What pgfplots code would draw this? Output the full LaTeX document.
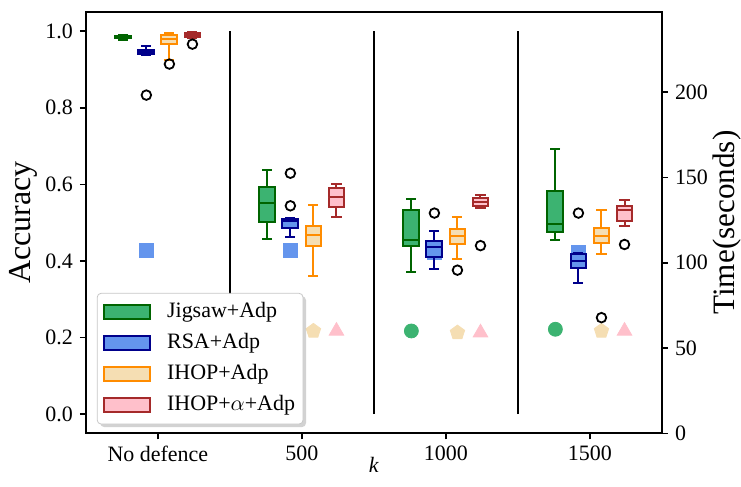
\documentclass[border=0pt]{standalone}
\usepackage{pgfplots}
\pgfplotsset{compat=1.18}
\usepgfplotslibrary{statistics}
\usetikzlibrary{shadows,plotmarks}
\usepackage{fontspec}
\setmainfont{Liberation Serif}

\definecolor{jigF}{HTML}{3CB371}
\definecolor{jigE}{HTML}{006400}
\definecolor{rsaF}{HTML}{6495ED}
\definecolor{rsaE}{HTML}{00008B}
\definecolor{ihF}{HTML}{F5DEB3}
\definecolor{ihE}{HTML}{FF8C00}
\definecolor{iaF}{HTML}{FFC0CB}
\definecolor{iaE}{HTML}{A52A2A}

\makeatletter
\tikzset{noshadow/.code={\let\tikz@preactions\pgfutil@empty\let\tikz@postactions\pgfutil@empty}}
\makeatother

\pgfplotsset{
  bxc/.style={forget plot, line width=1pt, solid, mark=o, mark size=2.4pt,
    mark options={draw=black, fill=none, line width=0.9pt, solid}},
  jig/.style={bxc, draw=jigE, fill=jigF},
  rsa/.style={bxc, draw=rsaE, fill=rsaF},
  ih/.style={bxc, draw=ihE, fill=ihF},
  ia/.style={bxc, draw=iaE, fill=iaF},
  bp/.style n args={6}{boxplot/draw direction=y, boxplot prepared={draw position=#1, lower whisker=#2,
    lower quartile=#3, median=#4, upper quartile=#5, upper whisker=#6,
    box extend=0.11, whisker extend=0.07}},
}

\begin{document}
\begin{tikzpicture}
% time axis (drawn first, so the boxes lie over its markers)
\begin{axis}[scale only axis, width=288.5pt, height=211pt,
  xmin=-0.5, xmax=3.5, ymin=0, ymax=247,
  axis x line=none, axis y line*=right,
  ytick={0,50,100,150,200},
  tick align=outside, major tick length=3pt,
  axis line style={line width=1pt},
  every tick/.style={black, line width=0.8pt},
  /pgf/number format/assume math mode=true,
  tick label style={font=\fontsize{11}{13}\selectfont},
  ylabel={Time(seconds)},
  every axis y label/.style={at={(rel axis cs:1.1127,0.5)}, rotate=90, anchor=center, inner sep=0pt, font=\fontsize{15.6}{18}\selectfont},
]
\addplot[only marks, mark=*, mark size=3.5pt, draw=jigF, fill=jigF]
  coordinates {(-0.24,60) (0.76,60) (1.76,60) (2.76,61)};
\addplot[only marks, mark=square*, mark size=3.5pt, draw=rsaF, fill=rsaF]
  coordinates {(-0.08,107) (0.92,107) (1.92,106) (2.92,106)};
\addplot[only marks, mark=pentagon*, mark size=3.8pt, draw=ihF, fill=ihF]
  coordinates {(0.08,60) (1.08,60) (2.08,59) (3.08,60)};
\addplot[only marks, mark=triangle*, mark size=4.2pt, draw=iaF, fill=iaF]
  coordinates {(0.24,60) (1.24,60) (2.24,59) (3.24,60)};
\end{axis}

\begin{axis}[name=main, scale only axis, width=288.5pt, height=211pt,
  xmin=-0.5, xmax=3.5, ymin=-0.05, ymax=1.05,
  xtick={0,1,2,3}, xticklabels={No defence,500,1000,1500},
  ytick={0,0.2,0.4,0.6,0.8,1},
  tick align=outside, tick pos=left, major tick length=3pt,
  axis line style={line width=1pt},
  every tick/.style={black, line width=0.8pt},
  yticklabel style={/pgf/number format/.cd, fixed, fixed zerofill, precision=1},
  /pgf/number format/assume math mode=true,
  tick label style={font=\fontsize{11}{13}\selectfont},
  xlabel={\textit{k}},
  xlabel style={at={(rel axis cs:0.5,0)}, anchor=center, yshift=-16pt, font=\fontsize{11}{13}\selectfont},
  ylabel={Accuracy},
  every axis y label/.style={at={(rel axis cs:-0.109,0.5)}, rotate=90, anchor=center, inner sep=0pt, font=\fontsize{16}{18}\selectfont},
  legend image code/.code={\draw[noshadow, sharp corners, #1, line width=0.8pt] (1.5pt,-3.5pt) rectangle (24.5pt,3.5pt);
    \path[noshadow, draw=none, fill=none] (0pt,0pt) -- (31pt,0pt);},
  legend cell align=left,
  legend style={at={(rel axis cs:0.019,0.021)}, anchor=south west,
    draw=black!22, fill=white, rounded corners=2pt,
    drop shadow={shadow xshift=1.5pt, shadow yshift=-1.5pt, fill=black!35},
    font=\fontsize{11}{13}\selectfont, inner xsep=2pt, inner ysep=2.25pt,
    row sep=1pt,
    nodes={inner sep=2pt, text height=8pt, text depth=2.5pt}},
]
\addlegendimage{draw=jigE, fill=jigF}
\addlegendentry{Jigsaw+Adp}
\addlegendimage{draw=rsaE, fill=rsaF}
\addlegendentry{RSA+Adp}
\addlegendimage{draw=ihE, fill=ihF}
\addlegendentry{IHOP+Adp}
\addlegendimage{draw=iaE, fill=iaF}
\addlegendentry{IHOP+$\alpha$+Adp}
% separators
\addplot[black, line width=1.1pt, forget plot] coordinates {(0.5,0) (0.5,1)};
\addplot[black, line width=1.1pt, forget plot] coordinates {(1.5,0) (1.5,1)};
\addplot[black, line width=1.1pt, forget plot] coordinates {(2.5,0) (2.5,1)};
% No defence
\addplot[jig, bp={-0.24}{0.978}{0.981}{0.985}{0.988}{0.991}] coordinates {};
\addplot[rsa, bp={-0.08}{0.938}{0.941}{0.945}{0.950}{0.962}] table[row sep=\\, y index=0] {0.833\\};
\addplot[ih, bp={0.08}{0.925}{0.966}{0.980}{0.990}{0.995}] table[row sep=\\, y index=0] {0.914\\};
\addplot[ia, bp={0.24}{0.983}{0.985}{0.990}{0.994}{0.997}] table[row sep=\\, y index=0] {0.966\\};
% 500
\addplot[jig, bp={0.76}{0.457}{0.503}{0.551}{0.593}{0.638}] coordinates {};
\addplot[rsa, bp={0.92}{0.463}{0.486}{0.504}{0.510}{0.512}] table[row sep=\\, y index=0] {0.629\\0.544\\};
\addplot[ih, bp={1.08}{0.360}{0.438}{0.467}{0.490}{0.547}] coordinates {};
\addplot[ia, bp={1.24}{0.516}{0.541}{0.566}{0.590}{0.601}] coordinates {};
% 1000
\addplot[jig, bp={1.76}{0.372}{0.440}{0.455}{0.532}{0.5625}] coordinates {};
\addplot[rsa, bp={1.92}{0.380}{0.410}{0.437}{0.453}{0.477}] table[row sep=\\, y index=0] {0.525\\};
\addplot[ih, bp={2.08}{0.404}{0.445}{0.464}{0.484}{0.515}] table[row sep=\\, y index=0] {0.376\\};
\addplot[ia, bp={2.24}{0.538}{0.544}{0.555}{0.564}{0.573}] table[row sep=\\, y index=0] {0.440\\};
% 1500
\addplot[jig, bp={2.76}{0.456}{0.475}{0.497}{0.582}{0.693}] coordinates {};
\addplot[rsa, bp={2.92}{0.343}{0.382}{0.399}{0.419}{0.422}] table[row sep=\\, y index=0] {0.525\\};
\addplot[ih, bp={3.08}{0.417}{0.447}{0.466}{0.486}{0.534}] table[row sep=\\, y index=0] {0.252\\};
\addplot[ia, bp={3.24}{0.490}{0.505}{0.534}{0.544}{0.558}] table[row sep=\\, y index=0] {0.443\\};
\end{axis}
\path ([xshift=-43pt,yshift=-26.5pt]main.south west) rectangle ([xshift=39pt,yshift=6pt]main.north east);
\end{tikzpicture}
\end{document}
